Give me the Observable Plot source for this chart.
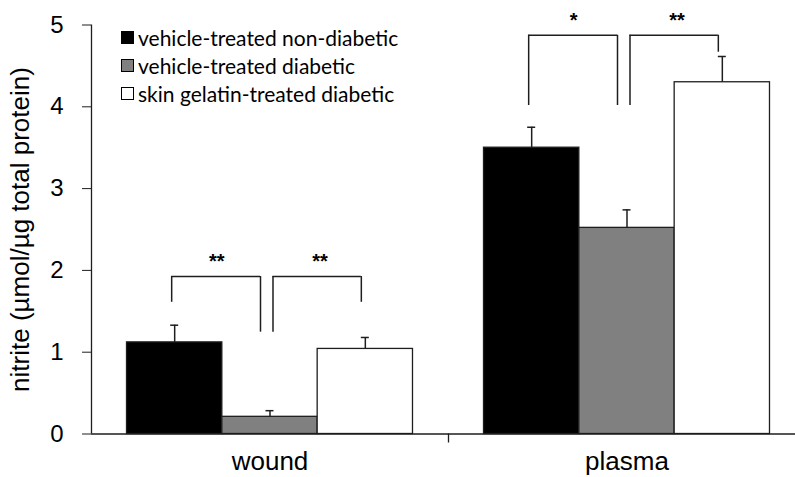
<!DOCTYPE html>
<html><head><meta charset="utf-8">
<script src="https://cdn.jsdelivr.net/npm/d3@7"></script>
<script src="https://cdn.jsdelivr.net/npm/@observablehq/plot@0.6"></script>
<style>
html,body{margin:0;padding:0;background:#fff;}
#wrap{position:relative;width:795px;height:477px;overflow:hidden;}
#legend{position:absolute;left:121px;top:24px;font-family:Lato,"Open Sans",sans-serif;font-size:21px;color:#000;}
.item{display:flex;align-items:center;height:27.8px;white-space:nowrap;}
.sw{width:13px;height:13px;border:1px solid #000;box-sizing:border-box;margin-right:4px;}
</style></head><body><div id="wrap"><div id="legend"></div></div>
<script>
// ---- data ----
const groups = ["wound", "plasma"];
const series = ["vehicle-treated non-diabetic", "vehicle-treated diabetic", "skin gelatin-treated diabetic"];
const woundMeans = [1.12, 0.21, 1.04];
const woundErrors = [0.21, 0.075, 0.14];
const plasmaMeans = [3.50, 2.52, 4.30];
const plasmaErrors = [0.25, 0.22, 0.315];
const yTicks = [0, 1, 2, 3, 4, 5];
const yLabel = "nitrite (µmol/µg total protein)";
// significance brackets
const bracketGroups = ["wound", "wound", "plasma", "plasma"];
const bracketFrom = [series[0], series[1], series[0], series[1]];
const bracketTo = [series[1], series[2], series[1], series[2]];
const bracketTop = [1.925, 1.925, 4.875, 4.875];
const bracketFromBottom = [1.61, 1.245, 4.016, 4.016];
const bracketToBottom = [1.245, 1.61, 4.016, 4.667];
const bracketLabels = ["**", "**", "*", "**"];
const seriesColors = ["#000000", "#808080", "#ffffff"];

// ---- tables ----
const meansBy = {wound: woundMeans, plasma: plasmaMeans};
const errorsBy = {wound: woundErrors, plasma: plasmaErrors};
const rows = [];
groups.forEach(g => series.forEach((s, i) => rows.push({group: g, series: s, mean: meansBy[g][i], err: errorsBy[g][i]})));
const brackets = bracketGroups.map((g, i) => ({group: g, from: bracketFrom[i], to: bracketTo[i], top: bracketTop[i], fromBottom: bracketFromBottom[i], toBottom: bracketToBottom[i], label: bracketLabels[i]}));
const leftB = brackets.filter(b => b.from === series[0]);
const rightB = brackets.filter(b => b.from === series[1]);

// ---- layout ----
const W = 795, H = 477, ML = 91, MT = 24.5, MB = 43.5;
const fxRange = [ML, 805];
const outerPad = 0.3725;
const bandW = (fxRange[1] - fxRange[0]) / 2 / (3 + 2 * outerPad);
const half = bandW / 2;
const edge = half + outerPad * bandW;
const ink = "#1e1e1e";

function bracketMarks(set, lo, ro, starDx) {
  return [
    Plot.ruleY(set, {fx: "group", x1: "from", x2: "to", y: "top", insetLeft: half + lo, insetRight: half - ro, stroke: ink, strokeWidth: 1.5}),
    Plot.ruleX(set, {fx: "group", x: "from", y1: "fromBottom", y2: "top", dx: lo, stroke: ink, strokeWidth: 1.5}),
    Plot.ruleX(set, {fx: "group", x: "to", y1: "toBottom", y2: "top", dx: ro, stroke: ink, strokeWidth: 1.5}),
    Plot.text(set, {fx: "group", x: "from", y: "top", text: "label", dx: starDx, dy: -15, fontSize: 20, fontWeight: "bold", lineAnchor: "middle"})
  ];
}

const chart = Plot.plot({
  width: W, height: H,
  marginLeft: ML, marginRight: 0, marginTop: MT, marginBottom: MB,
  facet: {marginTop: 0, marginBottom: 0, marginLeft: 0, marginRight: 0},
  style: {fontFamily: "'Liberation Sans', Arial, sans-serif", background: "#fff", color: "#000"},
  fx: {domain: groups, range: fxRange, padding: 0, round: false, axis: null},
  x: {domain: series, paddingInner: 0, paddingOuter: outerPad, round: false, axis: null},
  y: {domain: [0, 5], range: [H - MB, MT], axis: null},
  color: {domain: series, range: seriesColors},
  marks: [
    Plot.barY(rows, {fx: "group", x: "series", y: "mean", fill: "series", stroke: ink, strokeWidth: 1.3}),
    Plot.ruleX(rows, {fx: "group", x: "series", y1: "mean", y2: d => d.mean + d.err, stroke: ink, strokeWidth: 1.5}),
    Plot.tickY(rows, {fx: "group", x: "series", y: d => d.mean + d.err, insetLeft: half - 4, insetRight: half - 4, stroke: ink, strokeWidth: 1.5}),
    ...bracketMarks(leftB, -3, -9.5, 42),
    ...bracketMarks(rightB, 3, -4, 50),
    Plot.ruleY([0], {stroke: ink, strokeWidth: 1.3}),
    Plot.ruleX([groups[0]], {fx: d => d, x: () => series[0], dx: -edge, y1: () => 0, y2: () => 5, stroke: ink, strokeWidth: 1.3}),
    Plot.ruleX([groups[1]], {fx: d => d, x: () => series[0], dx: -edge, y1: () => 0, y2: () => 0, insetBottom: -9, stroke: ink, strokeWidth: 1.3}),
    Plot.axisY({ticks: yTicks, tickFormat: d3.format("d"), tickSize: 9, tickPadding: 19, fontSize: 24, label: null, stroke: ink}),
    Plot.axisY({ticks: [], tickSize: 0, fontSize: 26, label: yLabel, labelAnchor: "center", labelOffset: 81, labelArrow: "none"}),
    Plot.axisFx({anchor: "bottom", tickSize: 0, tickPadding: 18, fontSize: 26, label: null})
  ]
});
const wrap = document.getElementById("wrap");
wrap.insertBefore(chart, wrap.firstChild);

const legend = document.getElementById("legend");
series.forEach((s, i) => {
  const item = document.createElement("div");
  item.className = "item";
  const sw = document.createElement("span");
  sw.className = "sw";
  sw.style.background = seriesColors[i];
  const t = document.createElement("span");
  t.textContent = s;
  item.appendChild(sw); item.appendChild(t);
  legend.appendChild(item);
});
</script>
</body></html>
